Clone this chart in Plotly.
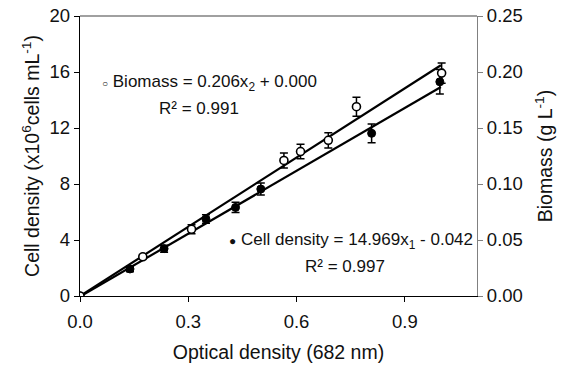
import plotly.graph_objects as go

# Data
od_cell = [0.0, 0.1385, 0.233, 0.349, 0.431, 0.501, 0.808, 0.997]
cell_density = [0.0, 1.93, 3.38, 5.50, 6.33, 7.64, 11.62, 15.30]
cell_err = [0.0, 0.2, 0.25, 0.3, 0.36, 0.43, 0.67, 0.87]

od_bio = [0.0, 0.174, 0.309, 0.565, 0.611, 0.688, 0.766, 1.002]
biomass = [0.0, 0.035, 0.0596, 0.121, 0.129, 0.139, 0.169, 0.199]
bio_err = [0.0, 0.002, 0.004, 0.0067, 0.0065, 0.0068, 0.0085, 0.009]

cell_slope, cell_icpt = 14.969, -0.042
bio_slope, bio_icpt = 0.206, 0.000
fit_x = [0.0, 1.0]

x_ticks = [0.0, 0.3, 0.6, 0.9]
y1_ticks = [0, 4, 8, 12, 16, 20]
y2_ticks = [0.00, 0.05, 0.10, 0.15, 0.20, 0.25]

FONT = "Liberation Sans, Arial, sans-serif"
TXT = "#111111"

fig = go.Figure()

# trend lines
fig.add_trace(go.Scatter(x=fit_x, y=[cell_slope * v + cell_icpt for v in fit_x],
                         mode="lines", line=dict(color="black", width=2.2),
                         yaxis="y", showlegend=False, hoverinfo="skip"))
fig.add_trace(go.Scatter(x=fit_x, y=[bio_slope * v + bio_icpt for v in fit_x],
                         mode="lines", line=dict(color="black", width=2.2),
                         yaxis="y2", showlegend=False, hoverinfo="skip"))

# data points
fig.add_trace(go.Scatter(x=od_cell, y=cell_density, mode="markers",
                         marker=dict(color="black", size=8, line=dict(color="black", width=1)),
                         error_y=dict(type="data", array=cell_err, color="black", thickness=1.5, width=4),
                         yaxis="y", showlegend=False))
fig.add_trace(go.Scatter(x=od_bio, y=biomass, mode="markers",
                         marker=dict(color="white", size=8, line=dict(color="black", width=1.6)),
                         error_y=dict(type="data", array=bio_err, color="black", thickness=1.5, width=4),
                         yaxis="y2", showlegend=False))

ann_font = dict(family=FONT, size=17, color=TXT)
fig.add_annotation(x=0.359, y=15.2, xref="x", yref="y", showarrow=False, font=ann_font,
                   text="<span style='font-size:10px'>○</span> Biomass = 0.206x<sub>2</sub> + 0.000")
fig.add_annotation(x=0.330, y=13.4, xref="x", yref="y", showarrow=False, font=ann_font,
                   text="R² = 0.991")
fig.add_annotation(x=0.752, y=3.95, xref="x", yref="y", showarrow=False, font=ann_font,
                   text="<span style='font-size:12px'>●</span> Cell density = 14.969x<sub>1</sub> - 0.042")
fig.add_annotation(x=0.734, y=2.1, xref="x", yref="y", showarrow=False, font=ann_font,
                   text="R² = 0.997")

tick_font = dict(family=FONT, size=18.5, color=TXT)
title_font = dict(family=FONT, size=19.5, color=TXT)

fig.update_layout(
    width=563, height=367,
    margin=dict(l=80, r=86, t=16, b=71, autoexpand=False),
    paper_bgcolor="white", plot_bgcolor="white",
    font=dict(family=FONT, color=TXT),
    xaxis=dict(range=[0, 1.1], tickvals=x_ticks, ticktext=[f"{v:.1f}" for v in x_ticks],
               showgrid=False, zeroline=False, showline=True, linecolor="black", linewidth=1.3,
               ticks="outside", ticklen=5, tickcolor="black", tickfont=tick_font,
               ticklabelstandoff=4, automargin=False,
               title=dict(text="Optical density (682 nm)", font=title_font, standoff=14)),
    yaxis=dict(range=[0, 20], tickvals=y1_ticks, showgrid=False, zeroline=False,
               showline=True, linecolor="black", linewidth=1.3, ticks="outside", ticklen=5,
               tickcolor="black", tickfont=tick_font, automargin=False,
               title=dict(text="Cell density (x10<sup>6</sup>cells mL<sup>-1</sup>)", font=title_font, standoff=4)),
    yaxis2=dict(range=[0, 0.25], tickvals=y2_ticks, ticktext=[f"{v:.2f}" for v in y2_ticks],
                overlaying="y", side="right", showgrid=False, zeroline=False,
                showline=True, linecolor="#808080", linewidth=1.3, ticks="outside", ticklen=5,
                tickcolor="#808080", tickfont=tick_font, automargin=False,
                title=dict(text="Biomass (g L<sup>-1</sup>)", font=title_font, standoff=16)),
    shapes=[dict(type="line", xref="paper", yref="paper", x0=0, x1=1, y0=1, y1=1,
                 line=dict(color="#808080", width=1.3))],
)

fig.write_html("out.html")
